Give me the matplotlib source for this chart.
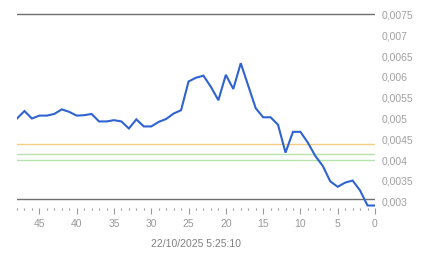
import matplotlib
matplotlib.use("Agg")
import matplotlib.pyplot as plt
from matplotlib.ticker import MultipleLocator, FuncFormatter

# minutes ago (48 .. 0) and price
steps = list(range(48, -1, -1))
prices = [0.00500, 0.00518, 0.00500, 0.00507, 0.00507, 0.00511, 0.00522, 0.00516,
          0.00507, 0.00508, 0.00511, 0.00493, 0.00493, 0.00496, 0.00493, 0.00476,
          0.00498, 0.00481, 0.00481, 0.00492, 0.00499, 0.00512, 0.00520, 0.00589,
          0.00598, 0.00603, 0.00576, 0.00544, 0.00605, 0.00571, 0.00633, 0.00579,
          0.00525, 0.00503, 0.00503, 0.00485, 0.00418, 0.00468, 0.00468, 0.00442,
          0.00410, 0.00386, 0.00349, 0.00336, 0.00346, 0.00351, 0.00327, 0.00291,
          0.00291]

# reference levels
gray_levels = [0.0075, 0.00306]
orange_levels = [0.00438]
green_levels = [0.00414, 0.00400]

yticks = [0.003, 0.0035, 0.004, 0.0045, 0.005, 0.0055, 0.006, 0.0065, 0.007, 0.0075]
xlabel = "22/10/2025 5:25:10"

plt.rcParams["font.family"] = ["Liberation Sans", "DejaVu Sans"]

fig = plt.figure(figsize=(4.43, 2.58), dpi=100)
ax = fig.add_axes([17 / 443, 50 / 258, 358 / 443, 206 / 258])

for lv in gray_levels:
    ax.axhline(lv, color="#6e6e6e", lw=1.0, zorder=1)
for lv in orange_levels:
    ax.axhline(lv, color="#f2cf84", lw=1.0, zorder=1)
for lv in green_levels:
    ax.axhline(lv, color="#b5e2ad", lw=1.0, zorder=1)

ax.plot(steps, prices, color="#2f63d0", lw=1.5, zorder=3, solid_joinstyle="miter")

ax.set_xlim(48, 0)
ax.set_ylim(0.00285, 0.0078)

for s in ax.spines.values():
    s.set_visible(False)

ax.xaxis.set_major_locator(MultipleLocator(5))
ax.xaxis.set_minor_locator(MultipleLocator(1))
ax.tick_params(axis="x", which="major", length=4.5, width=0.8, color="#999999",
               labelcolor="#999999", labelsize=7.5, pad=3.5)
ax.tick_params(axis="x", which="minor", length=1.5, width=0.8, color="#999999")

ax.yaxis.tick_right()
ax.set_yticks(yticks)
ax.yaxis.set_major_formatter(FuncFormatter(lambda v, p: ("%g" % v).replace(".", ",")))
ax.tick_params(axis="y", length=0, pad=5, labelcolor="#a0a0a0", labelsize=7.5)

ax.set_xlabel(xlabel, color="#808080", fontsize=7.5, labelpad=7)

fig.savefig("out.png", dpi=100)
